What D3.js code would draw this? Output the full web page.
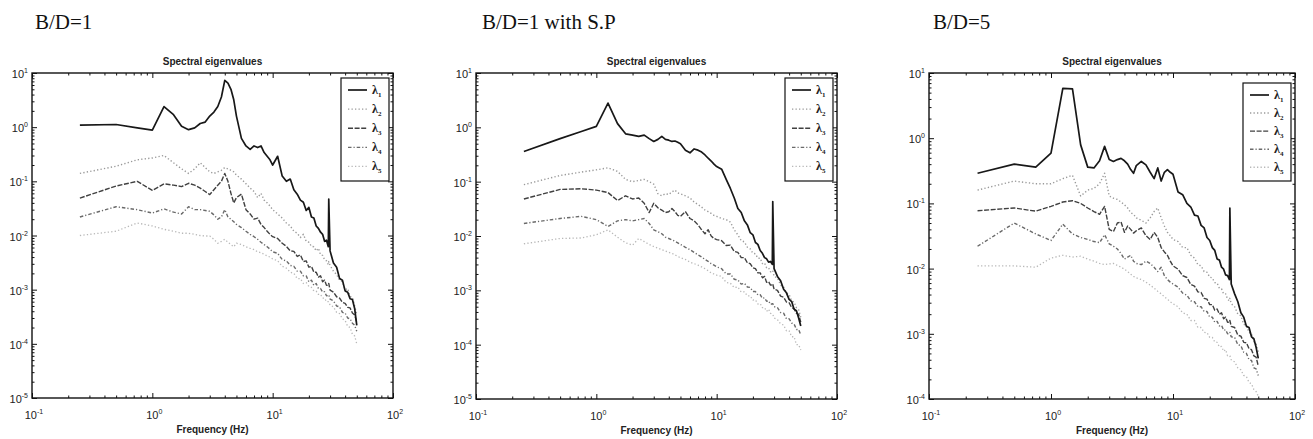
<!DOCTYPE html>
<html>
<head>
<meta charset="utf-8">
<script src="https://cdn.jsdelivr.net/npm/d3@7"></script>
<style>
  body { margin: 0; background: #fff; }
  svg { display: block; }
</style>
</head>
<body>
<svg id="chart" width="1313" height="439"></svg>
<script>
// frequency grid (Hz) shared by every curve
const freq = [0.25,0.5,0.75,1,1.25,1.5,1.75,2,2.25,2.5,2.75,3,3.25,3.5,3.75,4,4.25,4.5,4.75,5,5.5,6,6.5,7,7.5,8,8.5,9,9.5,
  10,11,12,13,14,15,16,17,18,19,20,21,22,23,24,25,26,27,28,29,29.25,30,32,34,36,38,40,42,44,46,48,50];

const panelTitles = ["B/D=1", "B/D=1 with S.P", "B/D=5"];
const legendLabels = ["1", "2", "3", "4", "5"];

// B/D=1
const p1L1 = [1.09,1.12,0.97,0.88,2.4,1.7,1.04,0.9,0.97,1.17,1.24,1.6,1.9,2.4,3.6,7.3,6.5,5.0,3.2,1.6,0.62,0.45,0.39,0.45,0.42,0.45,0.34,0.29,0.25,
  0.2,0.29,0.125,0.1,0.11,0.07,0.058,0.045,0.041,0.029,0.033,0.022,0.021,0.015,0.0135,0.0115,0.0105,0.0078,0.0082,0.0062,0.047,0.0052,0.0031,0.0026,0.0016,0.0015,0.00095,0.0009,0.00068,0.00066,0.00045,0.00022];
const p1L2 = [0.14,0.19,0.25,0.27,0.3,0.22,0.17,0.14,0.17,0.22,0.18,0.15,0.14,0.15,0.16,0.18,0.17,0.16,0.15,0.13,0.11,0.09,0.075,0.065,0.05,0.06,0.045,0.04,0.035,
  0.03,0.025,0.021,0.017,0.015,0.012,0.011,0.0092,0.0105,0.0078,0.0075,0.0063,0.0062,0.0052,0.0058,0.0044,0.0043,0.0036,0.0034,0.0029,0.0033,0.0028,0.0022,0.0019,0.0015,0.0014,0.001,0.00105,0.00075,0.00072,0.0005,0.00035];
const p1L3 = [0.049,0.082,0.1,0.068,0.09,0.085,0.08,0.092,0.085,0.075,0.065,0.057,0.07,0.085,0.1,0.14,0.1,0.06,0.04,0.05,0.058,0.03,0.025,0.02,0.021,0.016,0.014,0.012,0.0105,
  0.0095,0.0088,0.0072,0.0063,0.0052,0.0051,0.0041,0.0044,0.0033,0.0034,0.0026,0.0027,0.0021,0.0021,0.0017,0.0018,0.0014,0.0015,0.0012,0.0012,0.0013,0.00098,0.0009,0.00074,0.0007,0.00058,0.00056,0.00047,0.00046,0.00037,0.00034,0.00025];
const p1L4 = [0.022,0.034,0.03,0.026,0.031,0.027,0.025,0.034,0.03,0.03,0.029,0.028,0.024,0.02,0.022,0.03,0.022,0.02,0.018,0.016,0.014,0.012,0.0105,0.0095,0.0085,0.0075,0.0068,0.0062,0.0056,
  0.005,0.0047,0.0036,0.0034,0.0028,0.0027,0.0022,0.0022,0.0018,0.0018,0.0014,0.0015,0.0012,0.0013,0.00105,0.00105,0.0009,0.00092,0.00077,0.00078,0.0008,0.00067,0.00062,0.0005,0.00048,0.00038,0.00037,0.0003,0.00029,0.00024,0.00022,0.00017];
const p1L5 = [0.01,0.012,0.017,0.015,0.013,0.012,0.011,0.011,0.0105,0.01,0.0098,0.0098,0.0085,0.0072,0.0078,0.0085,0.0075,0.0068,0.0062,0.0072,0.0068,0.0062,0.0058,0.0055,0.005,0.0048,0.0045,0.0042,0.004,
  0.0037,0.0034,0.0027,0.0025,0.0021,0.002,0.0016,0.0016,0.0013,0.00135,0.00115,0.0011,0.00095,0.00094,0.00082,0.00082,0.0007,0.0007,0.0006,0.0006,0.0006,0.00052,0.00048,0.00038,0.00036,0.00029,0.00027,0.00021,0.0002,0.00015,0.00014,0.0001];

// B/D=1 with S.P
const p2L1 = [0.36,0.62,0.84,1.04,2.8,1.17,0.76,0.72,0.68,0.72,0.62,0.55,0.6,0.68,0.6,0.58,0.55,0.56,0.53,0.5,0.38,0.34,0.4,0.38,0.35,0.31,0.27,0.24,0.21,
  0.19,0.17,0.11,0.075,0.05,0.032,0.027,0.019,0.016,0.0115,0.0105,0.0076,0.007,0.0054,0.0048,0.004,0.0038,0.0033,0.0034,0.003,0.043,0.0025,0.0018,0.0015,0.00105,0.0009,0.00068,0.00062,0.00045,0.00042,0.00031,0.00022];
const p2L2 = [0.088,0.13,0.15,0.165,0.18,0.155,0.11,0.1,0.105,0.11,0.1,0.09,0.06,0.055,0.06,0.058,0.065,0.07,0.062,0.06,0.055,0.05,0.042,0.038,0.034,0.03,0.028,0.026,0.024,
  0.023,0.021,0.02,0.018,0.013,0.0105,0.0082,0.0078,0.0062,0.0058,0.0048,0.0047,0.0039,0.0039,0.0031,0.0032,0.0026,0.0026,0.0022,0.0022,0.0023,0.0018,0.0017,0.00125,0.00115,0.0009,0.00084,0.00064,0.00061,0.00048,0.00044,0.00032];
const p2L3 = [0.048,0.072,0.074,0.07,0.063,0.045,0.055,0.048,0.05,0.04,0.027,0.04,0.033,0.03,0.027,0.028,0.032,0.028,0.024,0.023,0.028,0.021,0.019,0.016,0.013,0.011,0.013,0.01,0.009,
  0.0086,0.0082,0.0067,0.0068,0.0052,0.005,0.004,0.004,0.0032,0.0031,0.0026,0.0025,0.0021,0.0021,0.0017,0.0018,0.0014,0.00145,0.00125,0.00125,0.0013,0.00105,0.001,0.00078,0.00075,0.00061,0.00059,0.00048,0.00046,0.00038,0.00036,0.00026];
const p2L4 = [0.017,0.021,0.023,0.02,0.015,0.019,0.02,0.019,0.02,0.021,0.017,0.013,0.012,0.011,0.0095,0.009,0.0085,0.008,0.0075,0.007,0.0062,0.0056,0.005,0.0045,0.0041,0.0037,0.0034,0.0031,0.0029,
  0.0027,0.0025,0.002,0.002,0.0016,0.00155,0.0013,0.00135,0.00115,0.00113,0.00095,0.00095,0.00082,0.00083,0.00071,0.00073,0.00063,0.00064,0.00055,0.00057,0.00057,0.0005,0.00048,0.00039,0.00038,0.0003,0.0003,0.00025,0.00024,0.00019,0.00019,0.00015];
const p2L5 = [0.0072,0.009,0.0092,0.0105,0.013,0.0095,0.0075,0.0068,0.009,0.0079,0.007,0.0064,0.006,0.0056,0.0053,0.005,0.0048,0.0045,0.0042,0.004,0.0037,0.0033,0.0031,0.0029,0.0027,0.0025,0.0023,0.0021,0.002,
  0.0019,0.0018,0.0014,0.00135,0.00112,0.00115,0.00093,0.00094,0.00079,0.00079,0.00066,0.00067,0.00056,0.00057,0.00048,0.00048,0.00041,0.00045,0.00038,0.00036,0.00036,0.00031,0.00029,0.00024,0.00023,0.00018,0.00018,0.00014,0.00014,0.0001,0.0001,0.00008];

// B/D=5
const p3L1 = [0.29,0.4,0.36,0.59,5.8,5.7,0.79,0.36,0.35,0.45,0.75,0.47,0.44,0.47,0.49,0.45,0.4,0.33,0.29,0.38,0.44,0.39,0.3,0.24,0.35,0.22,0.3,0.33,0.3,
  0.28,0.15,0.136,0.1,0.088,0.066,0.064,0.046,0.042,0.03,0.027,0.021,0.019,0.014,0.0135,0.0105,0.0098,0.008,0.0078,0.0068,0.085,0.0058,0.0041,0.0031,0.0021,0.0018,0.0013,0.00125,0.0009,0.00084,0.00062,0.00042];
const p3L2 = [0.16,0.22,0.2,0.2,0.24,0.27,0.13,0.16,0.17,0.2,0.29,0.13,0.12,0.115,0.105,0.095,0.085,0.072,0.068,0.06,0.055,0.05,0.06,0.075,0.085,0.06,0.045,0.036,0.032,
  0.028,0.026,0.021,0.021,0.016,0.0145,0.0115,0.011,0.009,0.0088,0.0074,0.0072,0.0061,0.006,0.005,0.0049,0.0041,0.0041,0.0034,0.0032,0.0035,0.0029,0.0026,0.002,0.0019,0.0014,0.00135,0.00105,0.001,0.00076,0.0007,0.00052];
const p3L3 = [0.077,0.085,0.076,0.09,0.105,0.11,0.1,0.085,0.075,0.068,0.09,0.04,0.037,0.05,0.052,0.036,0.045,0.04,0.035,0.038,0.042,0.032,0.028,0.036,0.03,0.021,0.018,0.016,0.013,
  0.011,0.0098,0.0078,0.0073,0.0057,0.0054,0.0044,0.0043,0.0035,0.0034,0.0028,0.0028,0.0023,0.0024,0.002,0.0021,0.0017,0.0018,0.0015,0.0015,0.0016,0.0013,0.00125,0.00095,0.00092,0.00074,0.00073,0.00059,0.00057,0.00046,0.00044,0.00032];
const p3L4 = [0.022,0.05,0.034,0.027,0.048,0.034,0.03,0.028,0.026,0.025,0.033,0.024,0.022,0.02,0.017,0.014,0.015,0.016,0.013,0.012,0.0115,0.013,0.012,0.0105,0.009,0.0105,0.0078,0.0068,0.0062,
  0.0058,0.0052,0.0042,0.0039,0.0032,0.0031,0.0026,0.0026,0.0022,0.0022,0.0018,0.0018,0.0015,0.00155,0.00132,0.00135,0.00113,0.00115,0.001,0.001,0.00105,0.0009,0.00088,0.00068,0.00066,0.00052,0.0005,0.0004,0.00039,0.0003,0.00029,0.00023];
const p3L5 = [0.011,0.011,0.0105,0.0145,0.016,0.015,0.0155,0.014,0.013,0.012,0.0115,0.0118,0.012,0.0112,0.0105,0.0098,0.009,0.0082,0.0076,0.0072,0.0068,0.0062,0.0056,0.005,0.0045,0.0041,0.0037,0.0034,0.0031,
  0.0029,0.0026,0.0021,0.002,0.0016,0.0016,0.00125,0.00125,0.00105,0.00104,0.00088,0.00088,0.00075,0.00074,0.00063,0.00064,0.00054,0.00057,0.00046,0.00046,0.00046,0.0004,0.00037,0.0003,0.00028,0.00023,0.00022,0.00018,0.00017,0.00014,0.00013,0.00011];

const panels = [
  { title: panelTitles[0], titleX: 35, box: { left: 32, right: 393, top: 73, bottom: 398 }, yExp: [-5, 1],
    series: [p1L1, p1L2, p1L3, p1L4, p1L5], legend: { x: 341, y: 78, h: 103 } },
  { title: panelTitles[1], titleX: 482, box: { left: 476, right: 837, top: 73, bottom: 399 }, yExp: [-5, 1],
    series: [p2L1, p2L2, p2L3, p2L4, p2L5], legend: { x: 785, y: 78, h: 103 } },
  { title: panelTitles[2], titleX: 933, box: { left: 929, right: 1295, top: 73, bottom: 399 }, yExp: [-4, 1],
    series: [p3L1, p3L2, p3L3, p3L4, p3L5], legend: { x: 1243, y: 83, h: 98 } }
];

// one style per eigenvalue: solid, dotted, dashed, dash-dot, dotted
const styles = [
  { color: "#181818", width: 1.7, dash: null },
  { color: "#9a9a9a", width: 1.4, dash: "1.3,2.2" },
  { color: "#404040", width: 1.4, dash: "5,1.6" },
  { color: "#6a6a6a", width: 1.4, dash: "3.5,2,1.2,2" },
  { color: "#b8b8b8", width: 1.3, dash: "1.3,2.2" }
];

const svg = d3.select("#chart");
const sans = "'Liberation Sans', Arial, sans-serif";
const serif = "'Liberation Serif', 'Times New Roman', serif";

function minorTicks(lo, hi) {
  const out = [];
  for (let e = lo; e < hi; e++) {
    for (let m = 2; m <= 9; m++) out.push(m * Math.pow(10, e));
  }
  return out;
}

// "10" with a raised exponent, like the MATLAB labels
function powerLabel(sel, exp) {
  sel.append("tspan").text("10");
  sel.append("tspan").attr("dy", -5).attr("font-size", 7).text(exp);
}

panels.forEach((p, pi) => {
  const b = p.box;
  const x = d3.scaleLog().domain([0.1, 100]).range([b.left, b.right]);
  const y = d3.scaleLog().domain([Math.pow(10, p.yExp[0]), Math.pow(10, p.yExp[1])]).range([b.bottom, b.top]);
  const g = svg.append("g");

  // big panel caption
  g.append("text")
    .attr("x", p.titleX).attr("y", 29)
    .attr("font-family", serif).attr("font-size", 21).attr("fill", "#111")
    .text(p.title);

  g.append("text")
    .attr("x", (b.left + b.right) / 2).attr("y", b.top - 8)
    .attr("text-anchor", "middle")
    .attr("font-family", sans).attr("font-size", 10).attr("font-weight", "bold").attr("fill", "#222")
    .text("Spectral eigenvalues");

  // curves, clipped to the box
  const clipId = "clip" + pi;
  svg.append("clipPath").attr("id", clipId)
    .append("rect").attr("x", b.left).attr("y", b.top)
    .attr("width", b.right - b.left).attr("height", b.bottom - b.top);

  const line = d3.line()
    .x((d, i) => x(freq[i]))
    .y(d => y(d));

  const curves = g.append("g").attr("clip-path", `url(#${clipId})`);
  for (let k = p.series.length - 1; k >= 0; k--) {
    const s = styles[k];
    curves.append("path")
      .datum(p.series[k])
      .attr("d", line)
      .attr("fill", "none")
      .attr("stroke", s.color)
      .attr("stroke-width", s.width)
      .attr("stroke-linejoin", "round")
      .attr("stroke-dasharray", s.dash);
  }

  // ticks pointing inward on all four sides
  const xMajor = [0.1, 1, 10, 100];
  const xMinor = minorTicks(-1, 2);
  const yMajor = d3.range(p.yExp[0], p.yExp[1] + 1).map(e => Math.pow(10, e));
  const yMinor = minorTicks(p.yExp[0], p.yExp[1]);

  const tickGroups = [
    [d3.axisBottom(x), b.bottom, "x", xMajor, xMinor],
    [d3.axisTop(x), b.top, "x", xMajor, xMinor],
    [d3.axisLeft(y), b.left, "y", yMajor, yMinor],
    [d3.axisRight(y), b.right, "y", yMajor, yMinor]
  ];
  tickGroups.forEach(([axis, pos, dir, major, minor]) => {
    [[major, 5], [minor, 2.5]].forEach(([vals, len]) => {
      const a = g.append("g")
        .attr("transform", dir === "x" ? `translate(0,${pos})` : `translate(${pos},0)`)
        .call(axis.tickValues(vals).tickSize(-len).tickFormat(""));
      a.select(".domain").remove();
      a.selectAll("line").attr("stroke", "#111").attr("stroke-width", 1);
    });
  });

  g.append("rect")
    .attr("x", b.left).attr("y", b.top)
    .attr("width", b.right - b.left).attr("height", b.bottom - b.top)
    .attr("fill", "none").attr("stroke", "#111").attr("stroke-width", 1.4);

  // tick labels
  xMajor.forEach(v => {
    g.append("text")
      .attr("x", x(v) + 2).attr("y", b.bottom + 21)
      .attr("text-anchor", "middle")
      .attr("font-family", sans).attr("font-size", 11).attr("fill", "#222")
      .call(powerLabel, Math.round(Math.log10(v)));
  });
  yMajor.forEach(v => {
    g.append("text")
      .attr("x", b.left - 4).attr("y", y(v) + 5)
      .attr("text-anchor", "end")
      .attr("font-family", sans).attr("font-size", 11).attr("fill", "#222")
      .call(powerLabel, Math.round(Math.log10(v)));
  });

  g.append("text")
    .attr("x", (b.left + b.right) / 2).attr("y", b.bottom + 35)
    .attr("text-anchor", "middle")
    .attr("font-family", sans).attr("font-size", 10).attr("font-weight", "bold").attr("fill", "#222")
    .text("Frequency (Hz)");

  // legend
  const L = p.legend;
  const lg = g.append("g").attr("transform", `translate(${L.x},${L.y})`);
  lg.append("rect").attr("width", 48).attr("height", L.h)
    .attr("fill", "#fff").attr("stroke", "#111").attr("stroke-width", 1.2);
  const step = (L.h - 12) / (legendLabels.length - 1) * 0.84;
  legendLabels.forEach((lab, k) => {
    const ly = 12 + k * step;
    const s = styles[k];
    lg.append("line")
      .attr("x1", 7).attr("x2", 26).attr("y1", ly).attr("y2", ly)
      .attr("stroke", s.color).attr("stroke-width", s.width)
      .attr("stroke-dasharray", s.dash);
    const t = lg.append("text")
      .attr("x", 31).attr("y", ly + 4)
      .attr("font-family", serif).attr("font-size", 12).attr("font-weight", "bold").attr("fill", "#222");
    t.append("tspan").text("λ");
    t.append("tspan").attr("dy", 3).attr("font-size", 7).text(lab);
  });
});
</script>
</body>
</html>
